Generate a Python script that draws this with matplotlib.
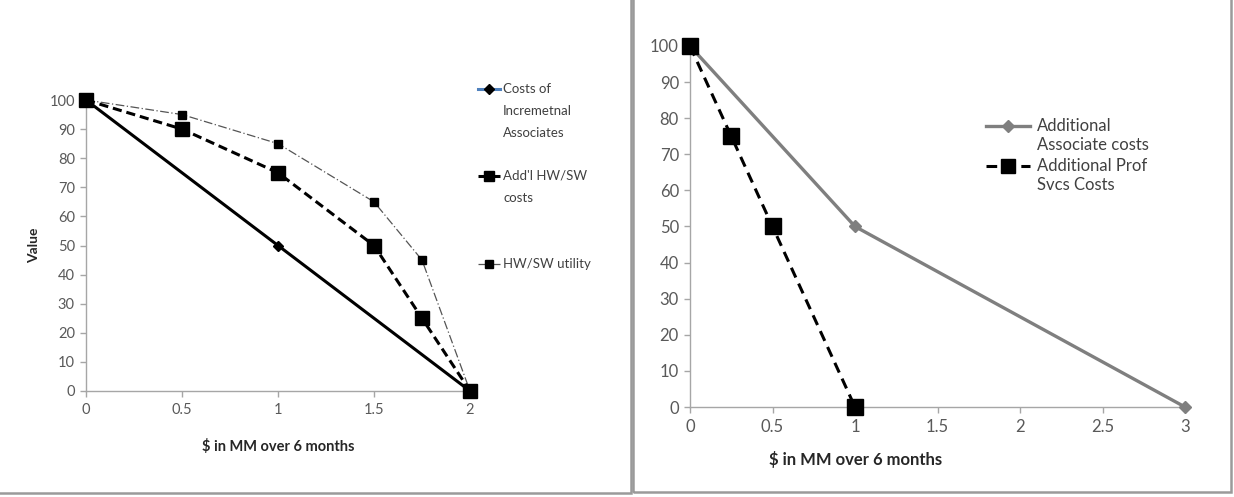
import matplotlib
matplotlib.use("Agg")
import matplotlib.pyplot as plt
from matplotlib.lines import Line2D
from matplotlib.patches import Rectangle

plt.rcParams['font.family'] = ['Lato', 'DejaVu Sans']

# left chart data
left_assoc_x = [0, 1, 2]
left_assoc_y = [100, 50, 0]
left_hwsw_x = [0, 0.5, 1, 1.5, 1.75, 2]
left_hwsw_y = [100, 90, 75, 50, 25, 0]
left_util_x = [0, 0.5, 1, 1.5, 1.75, 2]
left_util_y = [100, 95, 85, 65, 45, 0]
left_xticks = [0, 0.5, 1, 1.5, 2]
left_xticklabels = ["0", "0.5", "1", "1.5", "2"]

# right chart data
right_assoc_x = [0, 1, 3]
right_assoc_y = [100, 50, 0]
right_prof_x = [0, 0.25, 0.5, 1]
right_prof_y = [100, 75, 50, 0]
right_xticks = [0, 0.5, 1, 1.5, 2, 2.5, 3]
right_xticklabels = ["0", "0.5", "1", "1.5", "2", "2.5", "3"]

yticks = list(range(0, 101, 10))

W, H = 1234, 497
fig = plt.figure(figsize=(W / 100, H / 100), dpi=100)

def fx(px):
    return px / W

def fy(py):
    return 1 - py / H

# panel borders
fig.add_artist(Rectangle((fx(-5), fy(493)), fx(636), fy(-5) - fy(493), transform=fig.transFigure,
                         fill=False, edgecolor="#9a9a9a", linewidth=1.8))
fig.add_artist(Rectangle((fx(633), fy(492)), fx(598), fy(-5) - fy(492), transform=fig.transFigure,
                         fill=False, edgecolor="#9a9a9a", linewidth=1.8))

tick_color = "#595959"
axis_color = "#a6a6a6"
text_color = "#404040"

def style_axes(ax, fs):
    for s in ["top", "right"]:
        ax.spines[s].set_visible(False)
    for s in ["left", "bottom"]:
        ax.spines[s].set_color(axis_color)
        ax.spines[s].set_linewidth(1.0)
    ax.tick_params(axis="both", colors=axis_color, labelcolor=tick_color, labelsize=fs, length=4, width=1)
    ax.tick_params(axis="x", pad=5)
    ax.tick_params(axis="y", pad=4)

# ---- left chart ----
ax1 = fig.add_axes([fx(86), fy(391), fx(470 - 86), fy(100) - fy(391)])
ax1.plot(left_assoc_x, left_assoc_y, color="black", linewidth=2.2, marker="D", markersize=5, clip_on=False, zorder=3)
ax1.plot(left_hwsw_x, left_hwsw_y, color="black", linewidth=2.2, linestyle=(0, (3, 1.6)), marker="s",
         markersize=10, clip_on=False, zorder=4)
ax1.plot(left_util_x, left_util_y, color="#555555", linewidth=0.9, linestyle=(0, (7, 2, 1, 2)), marker="s",
         markersize=6, markerfacecolor="black", markeredgecolor="black", clip_on=False, zorder=2)
ax1.set_xlim(0, 2)
ax1.set_ylim(0, 100)
ax1.set_xticks(left_xticks)
ax1.set_xticklabels(left_xticklabels)
ax1.set_yticks(yticks)
style_axes(ax1, 10.5)
ax1.set_xlabel("$ in MM over 6 months", fontsize=10.5, fontweight="bold", color="#262626")
ax1.xaxis.set_label_coords(0.5, -0.165)
ax1.set_ylabel("Value", fontsize=10, fontweight="bold", color="#262626")
ax1.yaxis.set_label_coords(-0.12, 0.5)

# left legend (drawn by hand so the handle sits on the first text line)
leg_fs = 9.5
fig.add_artist(Line2D([fx(478), fx(500)], [fy(89), fy(89)], transform=fig.transFigure,
                      color="#4f81bd", linewidth=2.2))
fig.add_artist(Line2D([fx(489)], [fy(89)], transform=fig.transFigure, marker="D", markersize=5,
                      color="black", linestyle="none"))
fig.text(fx(503), fy(83), "Costs of\nIncremetnal\nAssociates", fontsize=leg_fs, color=text_color,
         va="top", ha="left", linespacing=2.0)
fig.add_artist(Line2D([fx(478), fx(500)], [fy(176), fy(176)], transform=fig.transFigure,
                      color="black", linewidth=2.2, linestyle=(0, (3, 1.6))))
fig.add_artist(Line2D([fx(489)], [fy(176)], transform=fig.transFigure, marker="s", markersize=7,
                      color="black", linestyle="none"))
fig.text(fx(503), fy(170), "Add'l HW/SW\ncosts", fontsize=leg_fs, color=text_color,
         va="top", ha="left", linespacing=2.0)
fig.add_artist(Line2D([fx(478), fx(500)], [fy(264), fy(264)], transform=fig.transFigure,
                      color="#555555", linewidth=0.9, linestyle=(0, (7, 2, 1, 2))))
fig.add_artist(Line2D([fx(489)], [fy(264)], transform=fig.transFigure, marker="s", markersize=6,
                      color="black", linestyle="none"))
fig.text(fx(503), fy(264), "HW/SW utility", fontsize=leg_fs, color=text_color, va="center", ha="left")

# ---- right chart ----
ax2 = fig.add_axes([fx(690), fy(407), fx(1185 - 690), fy(46) - fy(407)])
ax2.plot(right_assoc_x, right_assoc_y, color="#7f7f7f", linewidth=2.4, marker="D", markersize=6,
         clip_on=False, zorder=3)
ax2.plot(right_prof_x, right_prof_y, color="black", linewidth=2.2, linestyle=(0, (3.5, 2.2)), marker="s",
         markersize=11, clip_on=False, zorder=4)
ax2.set_xlim(0, 3)
ax2.set_ylim(0, 100)
ax2.set_xticks(right_xticks)
ax2.set_xticklabels(right_xticklabels)
ax2.set_yticks(yticks)
style_axes(ax2, 12)
ax2.set_xlabel("$ in MM over 6 months", fontsize=12, fontweight="bold", color="#262626")
ax2.xaxis.set_label_coords((856 - 690) / (1185 - 690), -0.122)

fig.add_artist(Line2D([fx(986), fx(1030)], [fy(126), fy(126)], transform=fig.transFigure,
                      color="#7f7f7f", linewidth=2.4))
fig.add_artist(Line2D([fx(1008)], [fy(126)], transform=fig.transFigure, marker="D", markersize=6,
                      color="#7f7f7f", linestyle="none"))
fig.text(fx(1037), fy(118), "Additional\nAssociate costs", fontsize=12, color=text_color,
         va="top", ha="left", linespacing=1.25)
fig.add_artist(Line2D([fx(986), fx(1030)], [fy(166), fy(166)], transform=fig.transFigure,
                      color="black", linewidth=2.2, linestyle=(0, (3.5, 2.2))))
fig.add_artist(Line2D([fx(1008)], [fy(166)], transform=fig.transFigure, marker="s", markersize=10,
                      color="black", linestyle="none"))
fig.text(fx(1037), fy(158), "Additional Prof\nSvcs Costs", fontsize=12, color=text_color,
         va="top", ha="left", linespacing=1.25)

fig.savefig("out.png", dpi=100)
